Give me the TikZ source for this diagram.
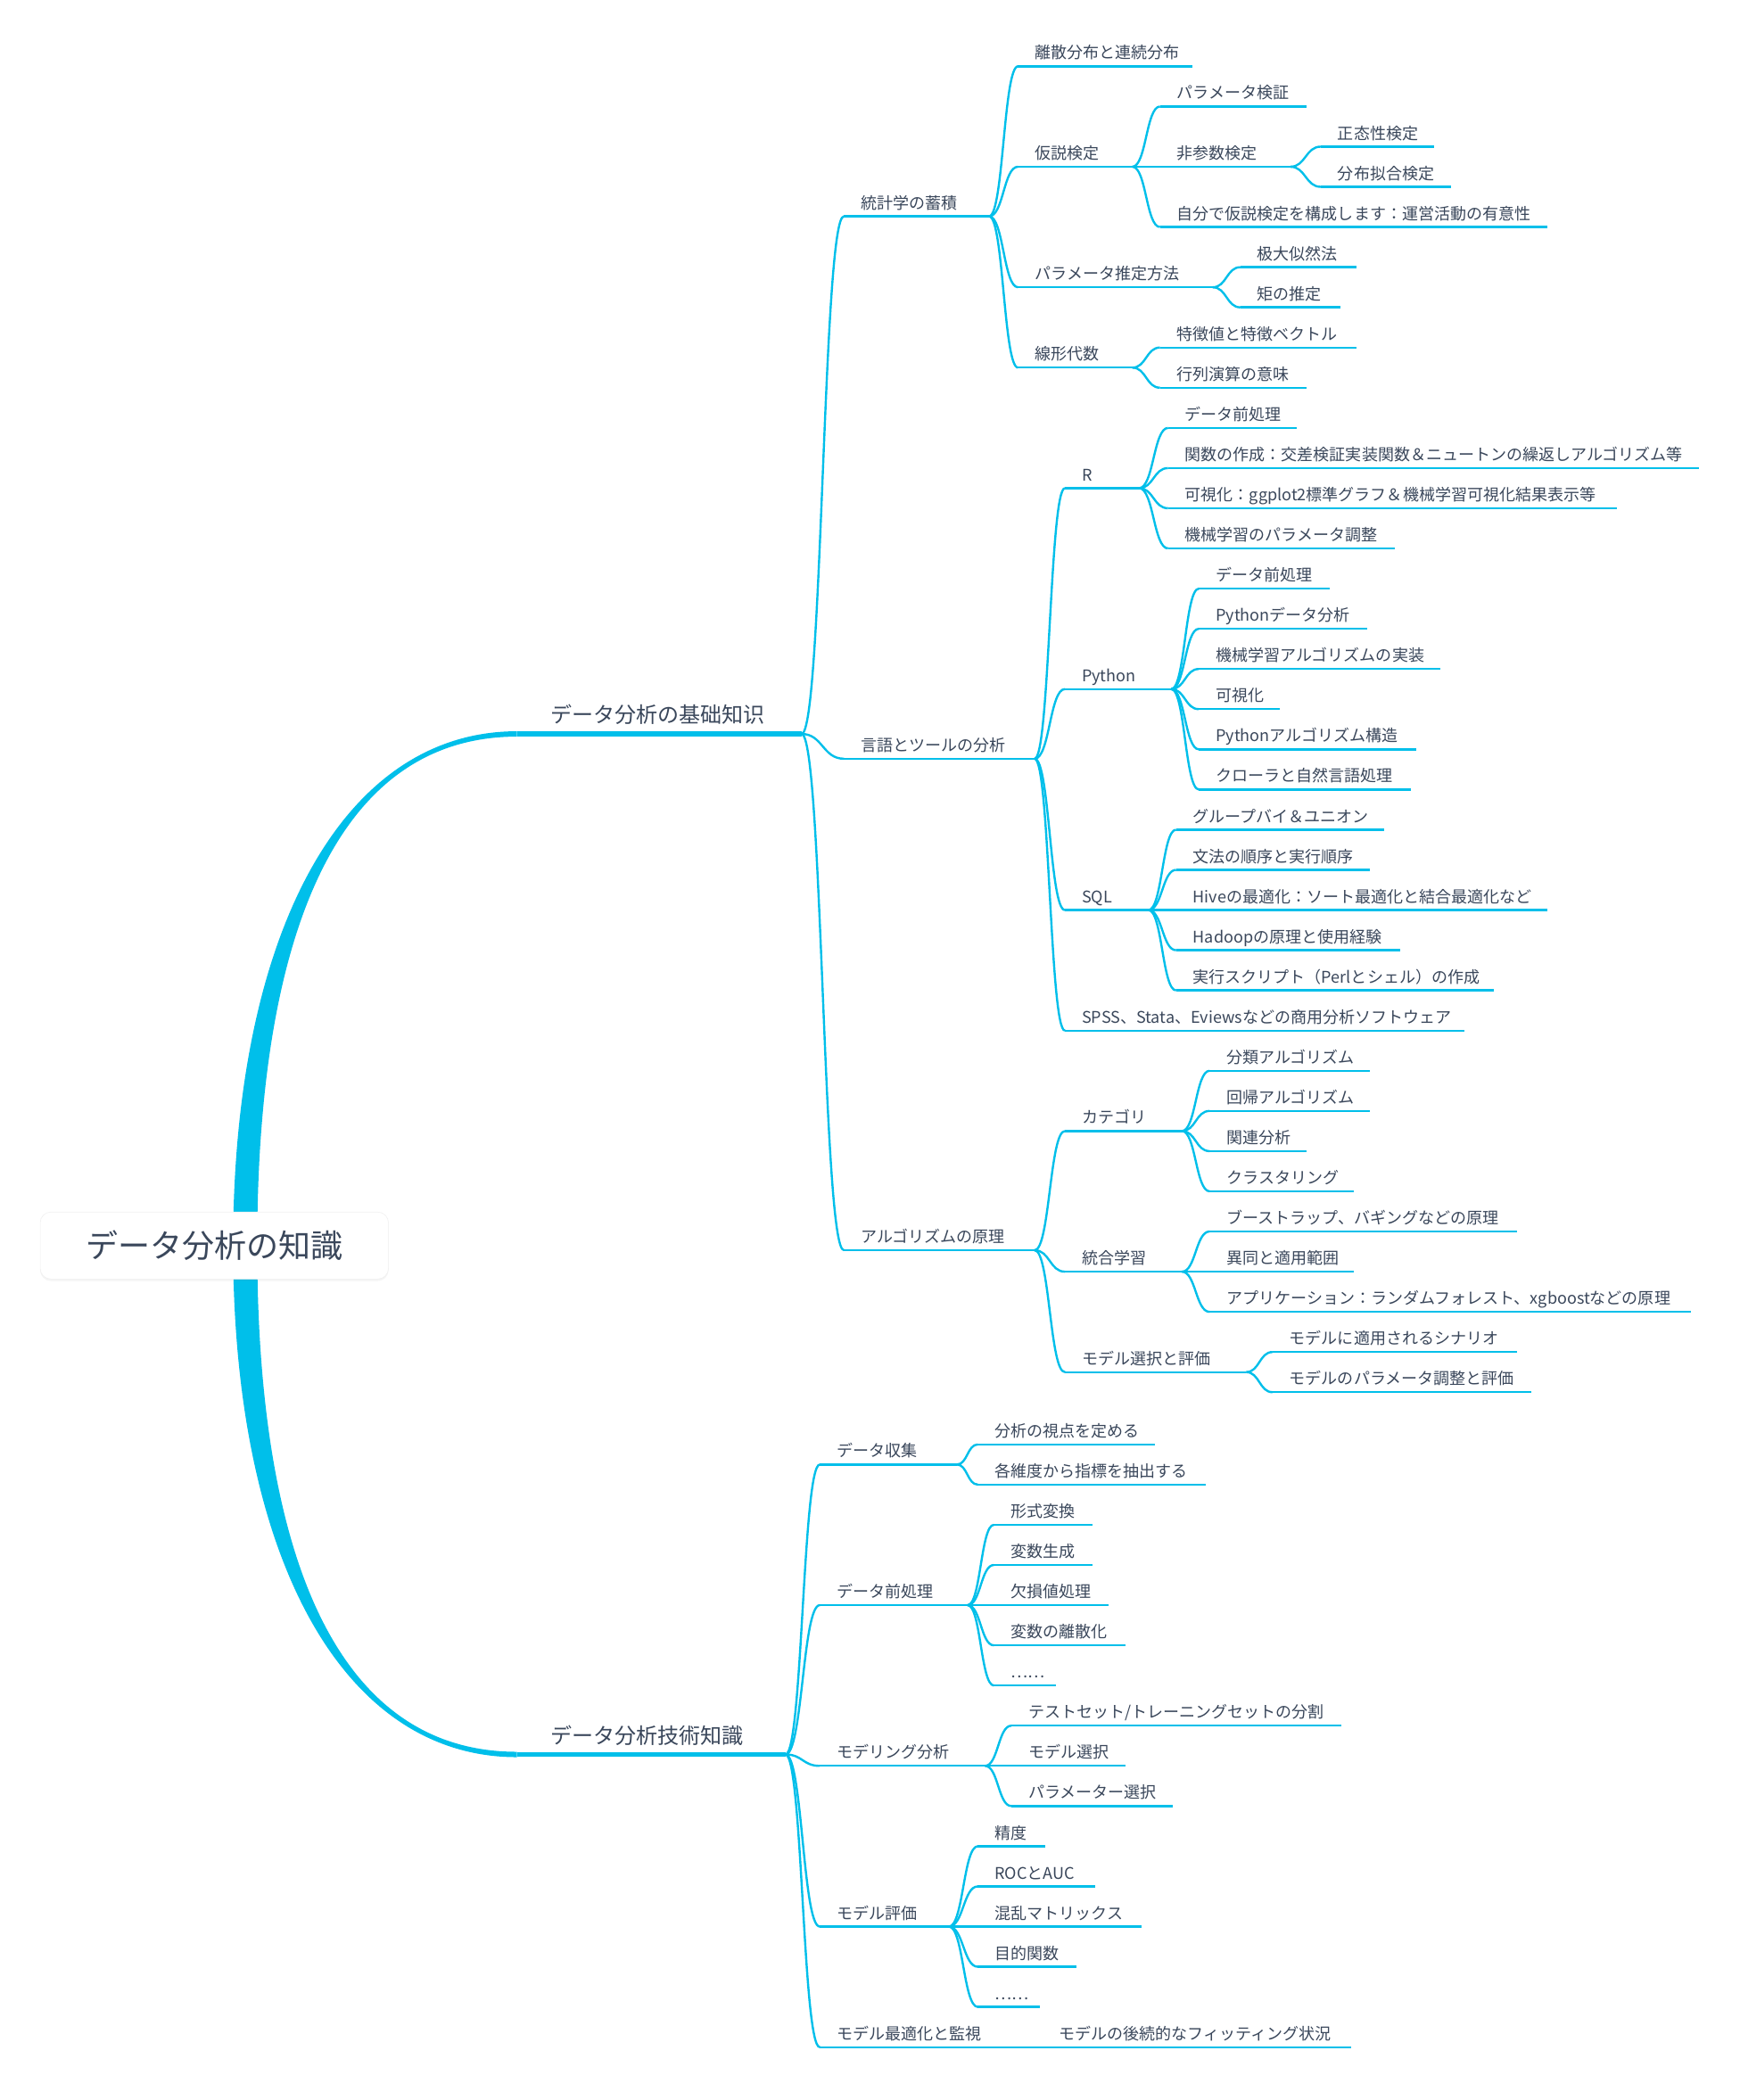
\documentclass[tikz,border=0pt]{standalone}
\usepackage{fontspec}
\usepackage{tikz}
\usetikzlibrary{calc,shadows}
\newfontfamily\jpfont{Noto Sans CJK JP}
\definecolor{mapcyan}{HTML}{00BFEA}
\definecolor{mapink}{HTML}{3A475B}

\begin{document}
\begin{tikzpicture}[
  x=1pt,y=-1pt,
  topic/.style={anchor=south west,inner xsep=12.5pt,inner ysep=3pt,text height=10pt,text depth=2.4pt,
    align=left,font=\jpfont\fontsize{12}{14}\selectfont,text=mapink},
  major/.style={topic,inner xsep=25pt,inner ysep=4.5pt,text height=13pt,text depth=3.4pt,
    font=\jpfont\fontsize{16}{19}\selectfont},
  core/.style={draw=black!6,fill=white,rounded corners=8pt,minimum width=260pt,minimum height=50pt,
    font=\jpfont\fontsize{24}{28}\selectfont,text=mapink,
    drop shadow={opacity=0.08,shadow xshift=0pt,shadow yshift=-1.5pt}},
  rule/.style={draw=mapcyan,line width=1.6pt},
  link/.style={draw=mapcyan,line width=1.6pt,
    to path={.. controls ($(\tikztostart)!0.5!(\tikztotarget |- \tikztostart)$)
      and ($(\tikztotarget)!0.5!(\tikztostart |- \tikztotarget)$) .. (\tikztotarget)}}
]
\fill[white] (0,0) rectangle (1299,1568);

% main branches
\node[major,text width=162pt] (base) at (386,548) {データ分析の基础知识};
\node[major,text width=150pt] (tech) at (386,1310) {データ分析技術知識};

\node[topic,text width=83pt] (stats) at (630,161.5) {統計学の蓄積};
\node[topic,text width=117pt] (tools) at (630,566.5) {言語とツールの分析};
\node[topic,text width=117pt] (algo) at (630,933.5) {アルゴリズムの原理};

% statistics
\node[topic,text width=105pt] (dist) at (760,49.5) {離散分布と連続分布};
\node[topic,text width=60pt] (hypo) at (760,124.5) {仮説検定};
\node[topic,text width=120pt] (estim) at (760,214.5) {パラメータ推定方法};
\node[topic,text width=60pt] (linalg) at (760,274.5) {線形代数};

\node[topic,text width=84pt] (hparam) at (866,79.5) {パラメータ検証};
\node[topic,text width=72pt] (nonpar) at (866,124.5) {非参数検定};
\node[topic,text width=264pt] (ownhyp) at (866,169.5) {自分で仮説検定を構成します：運営活動の有意性};
\node[topic,text width=59pt] (normal) at (986,109.5) {正态性検定};
\node[topic,text width=72pt] (fitting) at (986,139.5) {分布拟合検定};
\node[topic,text width=61pt] (mle) at (926,199.5) {极大似然法};
\node[topic,text width=49pt] (moment) at (926,229.5) {矩の推定};
\node[topic,text width=121pt] (eigen) at (866,259.5) {特徴値と特徴ベクトル};
\node[topic,text width=84pt] (matop) at (866,289.5) {行列演算の意味};

% languages and tools
\node[topic,text width=30pt] (rlang) at (795,364.5) {R};
\node[topic,text width=54pt] (python) at (795,514.5) {Python};
\node[topic,text width=37pt] (sql) at (795,679.5) {SQL};
\node[topic,text width=273pt] (spss) at (795,769.5) {SPSS、Stata、Eviewsなどの商用分析ソフトウェア};

\node[topic,text width=71pt] (rprep) at (872,319.5) {データ前処理};
\node[topic,text width=371pt] (rfunc) at (872,349.5) {関数の作成：交差検証実装関数＆ニュートンの繰返しアルゴリズム等};
\node[topic,text width=310pt] (rvis) at (872,379.5) {可視化：ggplot2標準グラフ＆機械学習可視化結果表示等};
\node[topic,text width=144pt] (rtune) at (872,409.5) {機械学習のパラメータ調整};

\node[topic,text width=72pt] (pprep) at (895,439.5) {データ前処理};
\node[topic,text width=100pt] (pana) at (895,469.5) {Pythonデータ分析};
\node[topic,text width=155pt] (pml) at (895,499.5) {機械学習アルゴリズムの実装};
\node[topic,text width=35pt] (pvis) at (895,529.5) {可視化};
\node[topic,text width=137pt] (palgo) at (895,559.5) {Pythonアルゴリズム構造};
\node[topic,text width=133pt] (pcrawl) at (895,589.5) {クローラと自然言語処理};

\node[topic,text width=130pt] (group) at (878,619.5) {グループバイ＆ユニオン};
\node[topic,text width=119pt] (order) at (878,649.5) {文法の順序と実行順序};
\node[topic,text width=252pt] (hive) at (878,679.5) {Hiveの最適化：ソート最適化と結合最適化など};
\node[topic,text width=142pt] (hadoop) at (878,709.5) {Hadoopの原理と使用経験};
\node[topic,text width=212pt] (script) at (878,739.5) {実行スクリプト（Perlとシェル）の作成};

% algorithms
\node[topic,text width=62pt] (category) at (795,844.5) {カテゴリ};
\node[topic,text width=62pt] (ensemble) at (795,949.5) {統合学習};
\node[topic,text width=110pt] (choose) at (795,1024.5) {モデル選択と評価};

\node[topic,text width=94pt] (classify) at (903,799.5) {分類アルゴリズム};
\node[topic,text width=94pt] (regress) at (903,829.5) {回帰アルゴリズム};
\node[topic,text width=47pt] (assoc) at (903,859.5) {関連分析};
\node[topic,text width=82pt] (cluster) at (903,889.5) {クラスタリング};
\node[topic,text width=204pt] (bagging) at (903,919.5) {ブーストラップ、バギングなどの原理};
\node[topic,text width=82pt] (usage) at (903,949.5) {異同と適用範囲};
\node[topic,text width=334pt] (forest) at (903,979.5) {アプリケーション：ランダムフォレスト、xgboostなどの原理};
\node[topic,text width=157pt] (scenario) at (950,1009.5) {モデルに適用されるシナリオ};
\node[topic,text width=168pt] (mtune) at (950,1039.5) {モデルのパラメータ調整と評価};

% technical knowledge
\node[topic,text width=77pt] (collect) at (612,1093.5) {データ収集};
\node[topic,text width=85pt] (prep) at (612,1198.5) {データ前処理};
\node[topic,text width=98pt] (modeling) at (612,1318.5) {モデリング分析};
\node[topic,text width=71pt] (evaluate) at (612,1438.5) {モデル評価};
\node[topic,text width=123pt] (monitor) at (612,1528.5) {モデル最適化と監視};

\node[topic,text width=107pt] (viewpt) at (730,1078.5) {分析の視点を定める};
\node[topic,text width=145pt] (extract) at (730,1108.5) {各維度から指標を抽出する};
\node[topic,text width=48pt] (convert) at (742,1138.5) {形式変換};
\node[topic,text width=48pt] (derive) at (742,1168.5) {変数生成};
\node[topic,text width=60pt] (missing) at (742,1198.5) {欠損値処理};
\node[topic,text width=73pt] (discrete) at (742,1228.5) {変数の離散化};
\node[topic,text width=21pt] (prepmore) at (742,1258.5) {……};
\node[topic,text width=221pt] (split) at (755,1288.5) {テストセット/トレーニングセットの分割};
\node[topic,text width=60pt] (msel) at (755,1318.5) {モデル選択};
\node[topic,text width=95pt] (psel) at (755,1348.5) {パラメーター選択};
\node[topic,text width=25pt] (accuracy) at (730,1378.5) {精度};
\node[topic,text width=62pt] (roc) at (730,1408.5) {ROCとAUC};
\node[topic,text width=97pt] (confusion) at (730,1438.5) {混乱マトリックス};
\node[topic,text width=48pt] (objective) at (730,1468.5) {目的関数};
\node[topic,text width=21pt] (evalmore) at (730,1498.5) {……};
\node[topic,text width=205pt] (refit) at (778,1528.5) {モデルの後続的なフィッティング状況};

% underlines
\foreach \n in {base,tech}
  \draw[mapcyan,line width=3.8pt] (\n.south west) -- (\n.south east);
\foreach \n in {stats,tools,algo,dist,hypo,estim,linalg,hparam,nonpar,ownhyp,normal,fitting,mle,moment,
    eigen,matop,rlang,python,sql,spss,rprep,rfunc,rvis,rtune,pprep,pana,pml,pvis,palgo,pcrawl,
    group,order,hive,hadoop,script,category,ensemble,choose,classify,regress,assoc,cluster,
    bagging,usage,forest,scenario,mtune,collect,prep,modeling,evaluate,monitor,viewpt,extract,
    convert,derive,missing,discrete,prepmore,split,msel,psel,accuracy,roc,confusion,objective,
    evalmore,refit}
  \draw[rule] (\n.south west) -- (\n.south east);

% connectors
\foreach \c in {stats,tools,algo} \draw[link] (base.south east) to (\c.south west);
\foreach \c in {collect,prep,modeling,evaluate,monitor} \draw[link] (tech.south east) to (\c.south west);
\foreach \c in {dist,hypo,estim,linalg} \draw[link] (stats.south east) to (\c.south west);
\foreach \c in {hparam,nonpar,ownhyp} \draw[link] (hypo.south east) to (\c.south west);
\foreach \c in {normal,fitting} \draw[link] (nonpar.south east) to (\c.south west);
\foreach \c in {mle,moment} \draw[link] (estim.south east) to (\c.south west);
\foreach \c in {eigen,matop} \draw[link] (linalg.south east) to (\c.south west);
\foreach \c in {rlang,python,sql,spss} \draw[link] (tools.south east) to (\c.south west);
\foreach \c in {rprep,rfunc,rvis,rtune} \draw[link] (rlang.south east) to (\c.south west);
\foreach \c in {pprep,pana,pml,pvis,palgo,pcrawl} \draw[link] (python.south east) to (\c.south west);
\foreach \c in {group,order,hive,hadoop,script} \draw[link] (sql.south east) to (\c.south west);
\foreach \c in {category,ensemble,choose} \draw[link] (algo.south east) to (\c.south west);
\foreach \c in {classify,regress,assoc,cluster} \draw[link] (category.south east) to (\c.south west);
\foreach \c in {bagging,usage,forest} \draw[link] (ensemble.south east) to (\c.south west);
\foreach \c in {scenario,mtune} \draw[link] (choose.south east) to (\c.south west);
\foreach \c in {viewpt,extract} \draw[link] (collect.south east) to (\c.south west);
\foreach \c in {convert,derive,missing,discrete,prepmore} \draw[link] (prep.south east) to (\c.south west);
\foreach \c in {split,msel,psel} \draw[link] (modeling.south east) to (\c.south west);
\foreach \c in {accuracy,roc,confusion,objective,evalmore} \draw[link] (evaluate.south east) to (\c.south west);
\draw[link] (monitor.south east) to (refit.south west);

% tapered trunk from the centre topic
\coordinate (trunk) at (183,930);
\fill[mapcyan] ([xshift=-9pt]trunk) .. controls +(0,-230) and +(-132,0) .. ([yshift=2pt]base.south west)
  -- ([yshift=-2pt]base.south west) .. controls +(-140,0) and +(0,-220) .. ([xshift=9pt]trunk) -- cycle;
\fill[mapcyan] ([xshift=-9pt]trunk) .. controls +(0,230) and +(-132,0) .. ([yshift=-2pt]tech.south west)
  -- ([yshift=2pt]tech.south west) .. controls +(-140,0) and +(0,220) .. ([xshift=9pt]trunk) -- cycle;

\node[core] (root) at (160,930) {データ分析の知識};
\end{tikzpicture}
\end{document}
